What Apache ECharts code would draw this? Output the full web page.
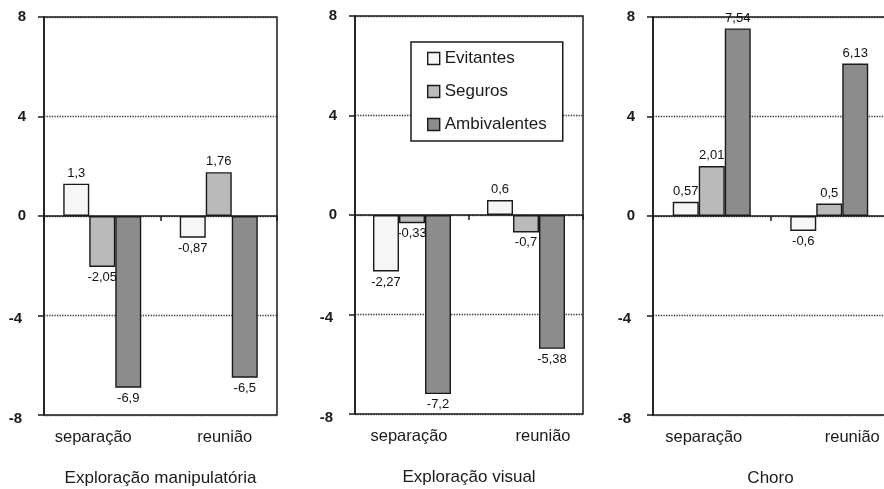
<!DOCTYPE html>
<html>
<head>
<meta charset="utf-8">
<script src="https://cdn.jsdelivr.net/npm/echarts@6/dist/echarts.min.js"></script>
<style>
  html, body { margin: 0; padding: 0; background: #fff; }
  #chart { width: 884px; height: 489px; }
</style>
</head>
<body>
<div id="chart"></div>
<script>
// ---- data ----
const categories = ['separação', 'reunião'];
const seriesNames = ['Evitantes', 'Seguros', 'Ambivalentes'];
const panelTitles = ['Exploração manipulatória', 'Exploração visual', 'Choro'];
// values per panel: [separação, reunião]
const evitantes    = [[1.3, -0.87], [-2.27, 0.6], [0.57, -0.6]];
const seguros      = [[-2.05, 1.76], [-0.33, -0.7], [2.01, 0.5]];
const ambivalentes = [[-6.9, -6.5], [-7.2, -5.38], [7.54, 6.13]];
const yTicks = [-8, -4, 0, 4, 8];

// ---- styles / layout ----
const FONT = '"Liberation Sans", Arial, Helvetica, sans-serif';
const INK = '#1a1a1a';
const colors = ['#f6f6f6', '#bababa', '#8c8c8c'];
const gridBoxes = [
  { left: 44, width: 233, top: 17, height: 398 },
  { left: 355, width: 228, top: 16, height: 398 },
  { left: 653, width: 235, top: 17, height: 398 }
];
// horizontal nudges of the category labels (px) per panel
const labelShift = [[-9, 6], [-3, 17], [-8, 23]];
const allValues = [evitantes, seguros, ambivalentes];

const fmt = v => String(v).replace('.', ',');

const grid = gridBoxes.map(g => Object.assign({}, g, {
  show: true, borderColor: INK, borderWidth: 1.5, backgroundColor: 'transparent',
  containLabel: false, outerBoundsMode: 'none'
}));

const xAxis = [];
const yAxis = [];
const series = [];

gridBoxes.forEach((g, p) => {
  const rich = {};
  labelShift[p].forEach((s, i) => {
    rich['c' + i] = {
      fontSize: 16.5, color: INK, fontFamily: FONT,
      padding: s < 0 ? [0, -2 * s, 0, 0] : [0, 0, 0, 2 * s]
    };
  });
  // zero line axis (with boundary ticks)
  xAxis.push({
    type: 'category', gridIndex: p, data: categories, position: 'bottom',
    axisLine: { show: true, onZero: true, lineStyle: { color: INK, width: 1.5 } },
    axisTick: { show: true, length: 5, lineStyle: { color: INK, width: 1.5 } },
    axisLabel: { show: false },
    splitLine: { show: false }
  });
  // bottom axis with labels and panel title
  xAxis.push({
    type: 'category', gridIndex: p, data: categories, position: 'bottom',
    axisLine: { show: false, onZero: false },
    axisTick: { show: false },
    axisLabel: {
      show: true, margin: 14,
      formatter: (v, i) => '{c' + i + '|' + v + '}',
      rich: rich
    },
    name: panelTitles[p], nameLocation: 'middle', nameGap: 55,
    nameTextStyle: { fontSize: 17, color: INK, fontFamily: FONT },
    splitLine: { show: false }
  });
  yAxis.push({
    type: 'value', gridIndex: p, min: yTicks[0], max: yTicks[yTicks.length - 1], interval: 4,
    axisLine: { show: true, lineStyle: { color: INK, width: 1.5 } },
    axisTick: { show: true, length: 6, lineStyle: { color: INK, width: 1.5 } },
    axisLabel: {
      margin: 18,
      formatter: v => (v < 0 ? '{n|' : '{p|') + v + '}',
      rich: {
        p: { fontSize: 15, fontWeight: 'bold', color: INK, fontFamily: FONT },
        n: { fontSize: 15, fontWeight: 'bold', color: INK, fontFamily: FONT, padding: [7, 4, 0, 0] }
      }
    },
    splitLine: { show: true, lineStyle: { type: 'dotted', color: '#333', width: 1.3 } }
  });
  seriesNames.forEach((name, s) => {
    series.push({
      name: name,
      type: 'bar',
      xAxisIndex: p * 2,
      yAxisIndex: p,
      barWidth: 26,
      barGap: '0%',
      itemStyle: { color: colors[s], borderColor: INK, borderWidth: 1.4 },
      label: {
        show: true, fontSize: 13, color: '#111', fontFamily: FONT, distance: 4,
        formatter: d => fmt(d.value)
      },
      data: allValues[s][p].map(v => ({
        value: v,
        label: { position: v >= 0 ? 'top' : 'bottom' }
      }))
    });
  });
});

const option = {
  animation: false,
  backgroundColor: '#ffffff',
  textStyle: { fontFamily: FONT },
  legend: {
    data: seriesNames,
    orient: 'vertical',
    left: 411, top: 42,
    padding: [8, 16, 8, 16],
    itemGap: 16,
    itemWidth: 12, itemHeight: 12,
    icon: 'rect',
    itemStyle: { borderColor: INK, borderWidth: 1.4 },
    backgroundColor: '#ffffff',
    borderColor: INK, borderWidth: 1.5,
    textStyle: { fontSize: 17, color: INK, fontFamily: FONT }
  },
  grid: grid,
  xAxis: xAxis,
  yAxis: yAxis,
  series: series
};

const chart = echarts.init(document.getElementById('chart'), null, { renderer: 'canvas' });
chart.setOption(option);
</script>
</body>
</html>
